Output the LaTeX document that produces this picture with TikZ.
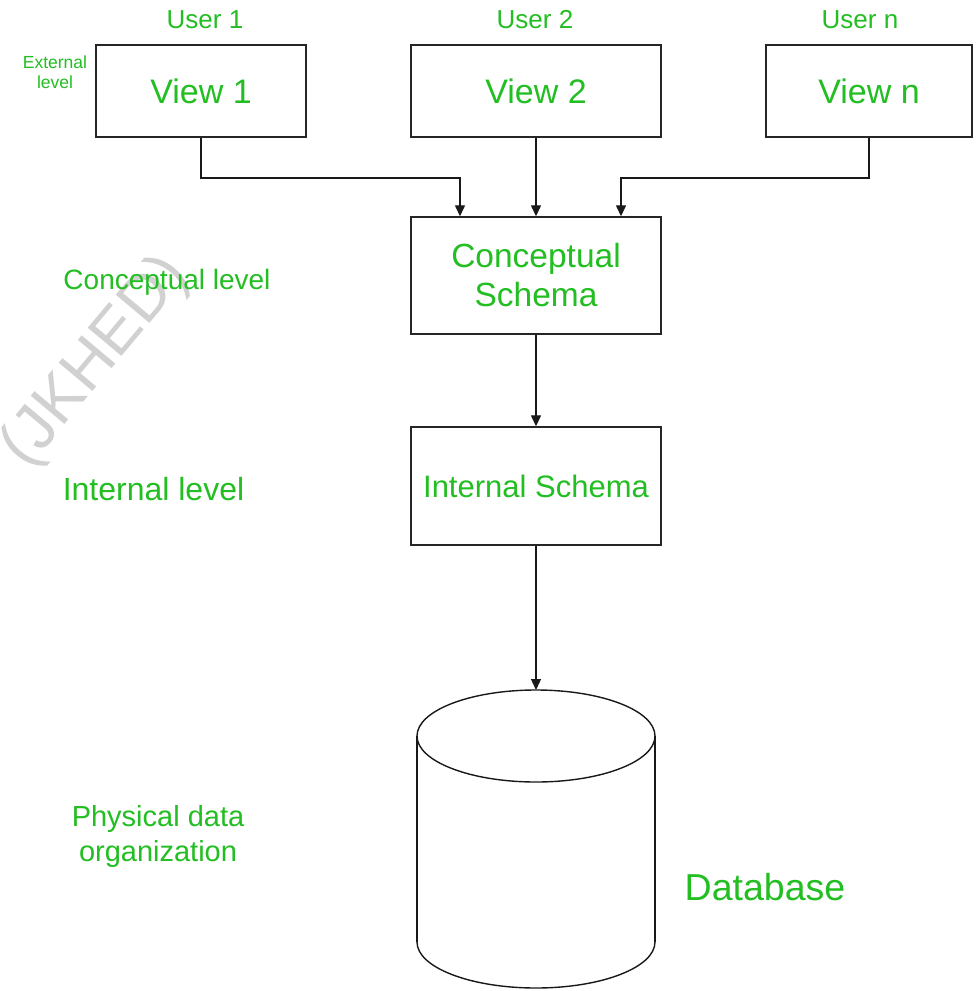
\documentclass[tikz,border=0pt]{standalone}
\usepackage{fontspec}
\setmainfont{Liberation Sans}
\usetikzlibrary{arrows.meta}
\definecolor{lbl}{RGB}{34,190,34}
\tikzset{
  box/.style={draw=black!85, line width=1.4pt, minimum height=92pt, inner sep=0pt, text=lbl},
  lbltext/.style={text=lbl, inner sep=0pt, align=center},
  arr/.style={draw=black!90, line width=1.3pt, -{Triangle[length=11pt,width=10pt]}},
  outline/.style={draw=black!90, line width=1.4pt},
}
\begin{document}
\begin{tikzpicture}[x=1pt, y={(0pt,-1pt)}]
\useasboundingbox (0,0) rectangle (980,991);
\fill[white] (0,0) rectangle (980,991);

% faint watermark
\node[rotate=50, text=black!18, inner sep=0pt,
      font=\fontsize{64}{64}\selectfont] (wm) at (96,362) {(JKHED)};

% external level
\node[box, minimum width=210pt, font=\fontsize{34}{40}\selectfont] (v1) at (201,91) {View 1};
\node[box, minimum width=250pt, font=\fontsize{34}{40}\selectfont] (v2) at (536,91) {View 2};
\node[box, minimum width=206pt, font=\fontsize{34}{40}\selectfont] (vn) at (869,91) {View n};

\node[lbltext, font=\fontsize{26}{30}\selectfont] (u1) at (205,20) {User 1};
\node[lbltext, font=\fontsize{26}{30}\selectfont] (u2) at (535,20) {User 2};
\node[lbltext, font=\fontsize{26}{30}\selectfont] (un) at (860,20) {User n};
\node[lbltext, font=\fontsize{17.5}{20}\selectfont] (ext) at (55,72) {External\\level};

% conceptual and internal schema
\node[box, minimum width=250pt, minimum height=117pt, align=center,
      font=\fontsize{33.5}{39}\selectfont] (cs) at (536,275.5) {Conceptual\\Schema};
\node[box, minimum width=250pt, minimum height=118pt,
      font=\fontsize{31}{36}\selectfont] (is) at (536,486) {Internal Schema};

\node[lbltext, font=\fontsize{28}{32}\selectfont] (cl) at (167,282) {Conceptual level};
\node[lbltext, font=\fontsize{32}{36}\selectfont] (il) at (153.5,489) {Internal level};
\node[lbltext, font=\fontsize{29}{35}\selectfont] (pl) at (158,836) {Physical data\\organization};

% database cylinder
\coordinate (dbtop) at (536,690);
\path[outline] (417,942) -- (417,736) (655,736) -- (655,942);
\path[outline] (536,736) ellipse [x radius=119, y radius=46];
\path[outline] (417,942) arc [start angle=180, end angle=0, x radius=119, y radius=46];
\node[lbltext, font=\fontsize{37.5}{42}\selectfont] (db) at (765,887) {Database};

% connectors
\coordinate (j1) at (460,178);
\coordinate (jn) at (621,178);
\draw[arr] (v1.south) |- (j1) -- (j1 |- cs.north);
\draw[arr] (v2.south) -- (cs.north);
\draw[arr] (vn.south) |- (jn) -- (jn |- cs.north);
\draw[arr] (cs.south) -- (is.north);
\draw[arr] (is.south) -- (dbtop);
\end{tikzpicture}
\end{document}
